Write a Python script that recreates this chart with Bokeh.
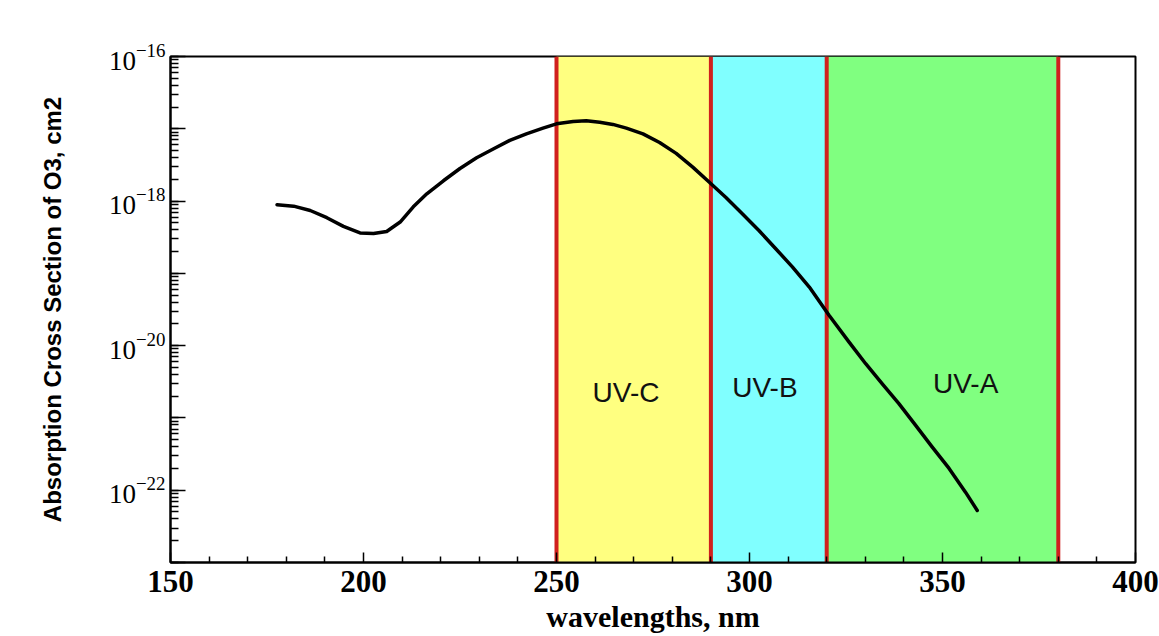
from bokeh.plotting import figure
from bokeh.models import Range1d, FixedTicker, LogTicker, LogTickFormatter, ColumnDataSource
from bokeh.core.properties import value
from bokeh.embed import file_html
from bokeh.resources import INLINE

# ---- data ----
wavelength = [177.6, 181.9, 186.2, 190.5, 194.8, 199.1, 202.6, 206.0, 209.5,
              212.9, 216.4, 220.7, 225.0, 229.3, 233.6, 237.9, 242.2, 246.5,
              250.0, 254.3, 257.7, 261.2, 264.6, 268.1, 272.4, 276.7, 281.0,
              285.3, 289.6, 293.9, 298.2, 302.5, 306.8, 311.1, 315.5, 320.6,
              325.8, 330.1, 334.4, 338.7, 343.0, 347.3, 351.7, 356.0, 359.0]
cross_section = [8.91e-19, 8.51e-19, 7.41e-19, 5.89e-19, 4.47e-19, 3.63e-19,
                 3.55e-19, 3.80e-19, 5.13e-19, 8.32e-19, 1.26e-18, 1.91e-18,
                 2.82e-18, 3.98e-18, 5.25e-18, 6.92e-18, 8.51e-18, 1.02e-17,
                 1.17e-17, 1.26e-17, 1.29e-17, 1.23e-17, 1.15e-17, 1.02e-17,
                 8.51e-18, 6.46e-18, 4.57e-18, 2.95e-18, 1.82e-18, 1.12e-18,
                 6.61e-19, 3.89e-19, 2.19e-19, 1.23e-19, 6.46e-20, 2.63e-20,
                 1.12e-20, 5.62e-21, 2.95e-21, 1.58e-21, 7.94e-22, 3.98e-22,
                 2.00e-22, 9.33e-23, 5.25e-23]

band_names = ["UV-C", "UV-B", "UV-A"]
band_start = [250, 290, 320]
band_end = [290, 320, 380]
band_colors = ["#FFFF80", "#80FFFF", "#80FF80"]
boundaries = [250, 290, 320, 380]

band_label_x = [268, 304, 356]
band_label_y = [2.24e-21, 2.63e-21, 3.0e-21]

x_ticks = [150, 200, 250, 300, 350, 400]
x_minor = [v for v in range(150, 401, 10) if v % 50 != 0]
y_exponents = [-23, -22, -21, -20, -19, -18, -17, -16]
y_labeled = [-22, -20, -18, -16]

Y_MIN, Y_MAX = 1e-23, 1e-16

p = figure(width=1159, height=636, x_range=Range1d(150, 400),
           y_range=Range1d(Y_MIN, Y_MAX), y_axis_type="log",
           output_backend="svg", toolbar_location=None,
           min_border_left=170, min_border_right=24,
           min_border_top=56, min_border_bottom=74)

p.background_fill_color = "white"
p.border_fill_color = "white"
p.grid.visible = False
p.outline_line_color = "black"
p.outline_line_width = 2

# colored bands
p.quad(left=band_start, right=band_end, bottom=Y_MIN, top=Y_MAX,
       fill_color=band_colors, line_color=None)

# red boundaries
p.segment(x0=boundaries, y0=[Y_MIN] * len(boundaries), x1=boundaries,
          y1=[Y_MAX] * len(boundaries), line_color="#D0201E", line_width=4)

# curve
p.line(wavelength, cross_section, line_color="black", line_width=3.5,
       line_join="round", line_cap="round")

# band labels
src = ColumnDataSource(dict(x=band_label_x, y=band_label_y, t=band_names))
p.text(x="x", y="y", text="t", source=src, text_align="center",
       text_baseline="middle", text_font=value("Liberation Sans"),
       text_font_size="28px", text_color="#111111")

# x axis
xa = p.xaxis[0]
xa.ticker = FixedTicker(ticks=x_ticks, minor_ticks=x_minor)
xa.axis_label = "wavelengths, nm"
xa.axis_label_text_font = "Liberation Serif"
xa.axis_label_text_font_style = "bold"
xa.axis_label_text_font_size = "30px"
xa.axis_label_text_color = "black"
xa.axis_label_standoff = 5
xa.major_label_text_font = "Liberation Serif"
xa.major_label_text_font_style = "bold"
xa.major_label_text_font_size = "31px"
xa.major_label_text_color = "black"
xa.major_label_standoff = 8
xa.major_tick_in = 10
xa.major_tick_out = 0
xa.minor_tick_in = 6
xa.minor_tick_out = 0
xa.axis_line_width = 2
xa.major_tick_line_width = 1.5
xa.minor_tick_line_width = 1.5

# y axis
ya = p.yaxis[0]
ya.ticker = LogTicker(desired_num_ticks=8, num_minor_ticks=10)
ya.formatter = LogTickFormatter()
ya.major_label_overrides = {10.0 ** e: "" for e in y_exponents if e not in y_labeled}
ya.axis_label = "Absorption Cross Section of O3, cm2"
ya.axis_label_text_font = "Liberation Sans"
ya.axis_label_text_font_style = "bold"
ya.axis_label_text_font_size = "24px"
ya.axis_label_text_color = "black"
ya.axis_label_standoff = 40
ya.major_label_text_font = "Liberation Serif"
ya.major_label_text_font_style = "normal"
ya.major_label_text_font_size = "27px"
ya.major_label_text_color = "black"
ya.major_label_standoff = 5
ya.major_tick_in = 15
ya.major_tick_out = 0
ya.minor_tick_in = 8
ya.minor_tick_out = 0
ya.axis_line_width = 2
ya.major_tick_line_width = 1.5
ya.minor_tick_line_width = 1.5

open("out.html", "w").write(file_html(p, INLINE))
